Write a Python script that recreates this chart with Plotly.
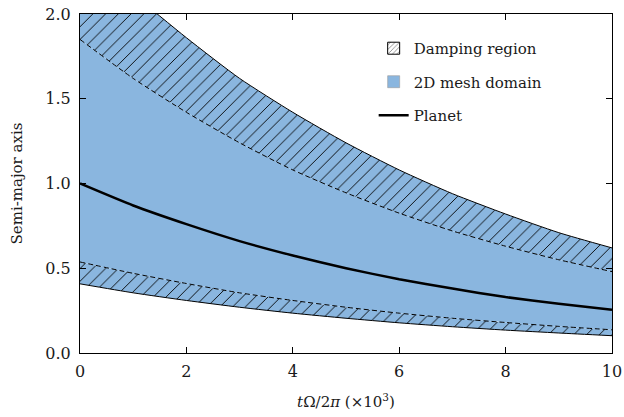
import plotly.graph_objects as go

# time in units of 10^3 orbits
t = [0, 1, 2, 3, 4, 5, 6, 7, 8, 9, 10]
planet = [1.0, 0.87, 0.76, 0.66, 0.575, 0.50, 0.435, 0.38, 0.33, 0.29, 0.255]
outer_upper = [2.42, 2.12, 1.86, 1.62, 1.42, 1.24, 1.08, 0.94, 0.82, 0.71, 0.62]
inner_upper = [1.85, 1.62, 1.42, 1.24, 1.08, 0.945, 0.825, 0.72, 0.63, 0.55, 0.48]
inner_lower = [0.537, 0.47, 0.41, 0.355, 0.31, 0.27, 0.235, 0.205, 0.18, 0.157, 0.137]
outer_lower = [0.408, 0.355, 0.31, 0.27, 0.235, 0.205, 0.178, 0.155, 0.135, 0.118, 0.102]

xticks = [0, 2, 4, 6, 8, 10]
yticks = [0.0, 0.5, 1.0, 1.5, 2.0]
ytick_text = ["0.0", "0.5", "1.0", "1.5", "2.0"]

BLUE = "#8ab6df"
FONT = "DejaVu Serif"
TXT = "#1a1a1a"
hatch = dict(shape="/", bgcolor=BLUE, fgcolor="black", size=9, solidity=0.1, fillmode="replace")
SM = dict(shape="spline", smoothing=0.6)

fig = go.Figure()
# lower damping region
fig.add_trace(go.Scatter(x=t, y=outer_lower, mode="lines", line=dict(color="black", width=1, **SM),
                         showlegend=False, hoverinfo="skip"))
fig.add_trace(go.Scatter(x=t, y=inner_lower, mode="lines",
                         line=dict(color="black", width=1, dash="5px,3px", **SM),
                         fill="tonexty", fillcolor=BLUE, fillpattern=hatch,
                         showlegend=False, hoverinfo="skip"))
# mesh domain
fig.add_trace(go.Scatter(x=t, y=inner_upper, mode="lines",
                         line=dict(color="black", width=1, dash="5px,3px", **SM),
                         fill="tonexty", fillcolor=BLUE, showlegend=False, hoverinfo="skip"))
# upper damping region
fig.add_trace(go.Scatter(x=t, y=outer_upper, mode="lines", line=dict(color="black", width=1, **SM),
                         fill="tonexty", fillcolor=BLUE, fillpattern=hatch,
                         showlegend=False, hoverinfo="skip"))
# planet
fig.add_trace(go.Scatter(x=t, y=planet, mode="lines", line=dict(color="black", width=2.5, **SM),
                         showlegend=False))

# legend entries
fig.add_trace(go.Bar(x=[None], y=[None], name="Damping region",
                     marker=dict(color="white",
                                 pattern=dict(shape="/", bgcolor="white", fgcolor="black", size=4, solidity=0.25),
                                 line=dict(color="black", width=1)),
                     legendgroup="a"))
fig.add_trace(go.Bar(x=[None], y=[None], name="2D mesh domain",
                     marker=dict(color=BLUE, line=dict(color="#9a9a9a", width=0.6)),
                     legendgroup="b"))
fig.add_trace(go.Scatter(x=[None], y=[None], mode="lines", name="Planet",
                         line=dict(color="black", width=2.5), legendgroup="c"))

axis_common = dict(showline=True, linecolor="black", linewidth=1.2, mirror="ticks",
                   ticks="inside", ticklen=6, tickcolor="black", showgrid=False, zeroline=False,
                   automargin=False, tickfont=dict(family=FONT, size=16, color=TXT))
fig.update_xaxes(range=[0, 10], tickvals=xticks, **axis_common, ticklabelstandoff=4,
                 title=dict(text="<i>t</i>Ω/2<i>π</i> (×10<sup>3</sup>)",
                            font=dict(family=FONT, size=15, color=TXT), standoff=16))
fig.update_yaxes(range=[0, 2], tickvals=yticks, ticktext=ytick_text, **axis_common, ticklabelstandoff=5,
                 title=dict(text="Semi-major axis", font=dict(family=FONT, size=15, color=TXT),
                            standoff=18))

fig.update_layout(
    width=624, height=417,
    margin=dict(l=80, r=12, t=14, b=64),
    plot_bgcolor="white", paper_bgcolor="white",
    legend=dict(x=0.552, y=0.947, xanchor="left", yanchor="top", bgcolor="rgba(0,0,0,0)",
                font=dict(family=FONT, size=15, color=TXT), tracegroupgap=11,
                itemwidth=30, traceorder="grouped"),
)

fig.write_html("out.html", config={"displayModeBar": False},
               post_script="document.body.style.margin='0';")
